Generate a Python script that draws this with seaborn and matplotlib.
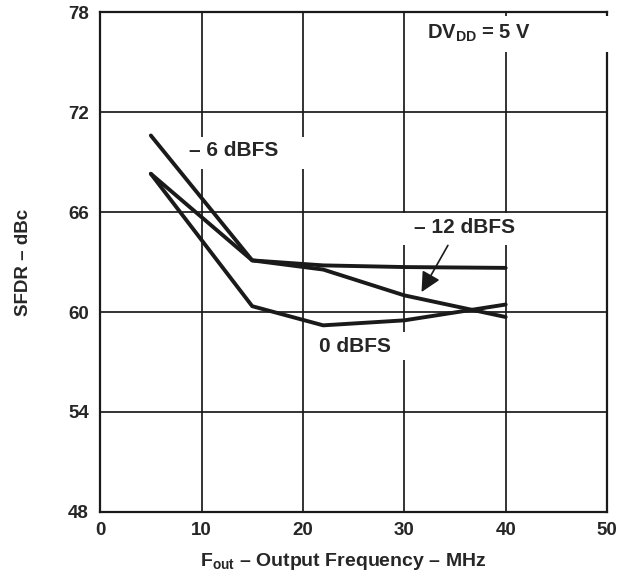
import numpy as np
import pandas as pd
import matplotlib
matplotlib.use('Agg')
import matplotlib.pyplot as plt
from matplotlib.patches import Rectangle
import seaborn as sns

# values
freq = [5, 15, 22, 30, 40]
sfdr_0dbfs = [68.3, 60.35, 59.2, 59.5, 60.45]
sfdr_6dbfs = [70.6, 63.1, 62.8, 62.7, 62.65]
sfdr_12dbfs = [68.3, 63.1, 62.55, 61.0, 59.7]

x_ticks = [0, 10, 20, 30, 40, 50]
y_ticks = [48, 54, 60, 66, 72, 78]

INK = '#1a1a1a'


def build_frame():
    """stack the three curves into one long dataframe for seaborn"""
    parts = []
    for name, vals in [('0 dBFS', sfdr_0dbfs), ('-6 dBFS', sfdr_6dbfs), ('-12 dBFS', sfdr_12dbfs)]:
        parts.append(pd.DataFrame({'freq': freq, 'sfdr': vals, 'level': name}))
    return pd.concat(parts, ignore_index=True)


def white_box(ax, x0, y0, x1, y1):
    # white patch that hides the grid behind a label, like the datasheet does
    ax.add_patch(Rectangle((x0, y0), x1 - x0, y1 - y0, facecolor='white',
                           edgecolor='none', zorder=3, clip_on=False))


def main():
    sns.set_theme(style='white')
    plt.rcParams['font.family'] = ['Liberation Sans', 'DejaVu Sans']
    plt.rcParams['font.weight'] = 'bold'
    plt.rcParams['mathtext.fontset'] = 'custom'
    plt.rcParams['mathtext.rm'] = 'Liberation Sans:bold'
    plt.rcParams['mathtext.bf'] = 'Liberation Sans:bold'
    plt.rcParams['mathtext.default'] = 'rm'

    df = build_frame()

    fig = plt.figure(figsize=(6.22, 5.83), dpi=100)
    ax = fig.add_axes([0.161, 0.122, 0.815, 0.857])

    sns.lineplot(data=df, x='freq', y='sfdr', hue='level',
                 palette=[INK] * 3, linewidth=2.8, legend=False,
                 ax=ax, zorder=4)

    ax.set_xlim(0, 50)
    ax.set_ylim(48, 78)
    ax.set_xticks(x_ticks)
    ax.set_yticks(y_ticks)
    ax.tick_params(length=0, labelsize=13.5)
    ax.tick_params(axis='x', pad=7)
    ax.tick_params(axis='y', pad=8)
    for lab in ax.get_xticklabels() + ax.get_yticklabels():
        lab.set_fontweight('bold')
    ax.grid(True, color=INK, linewidth=1.25)
    for s in ax.spines.values():
        s.set_color(INK)
        s.set_linewidth(1.6)

    ax.set_xlabel(r'F$_{\mathrm{out}}$ – Output Frequency – MHz', fontsize=14,
                  fontweight='bold')
    ax.xaxis.set_label_coords(0.48, -0.078)
    ax.set_ylabel('SFDR – dBc', fontsize=13.5, fontweight='bold')
    ax.yaxis.set_label_coords(-0.134, 0.5)

    # label masks
    white_box(ax, 30.6, 75.6, 51.0, 77.8)
    white_box(ax, 7.9, 68.6, 20.8, 70.5)
    white_box(ax, 29.6, 64.0, 44.3, 65.95)
    white_box(ax, 20.8, 57.1, 30.6, 58.8)

    ax.text(32.2, 76.75, r'DV$_{\mathrm{DD}}$ = 5 V', fontsize=14.5, fontweight='bold',
            ha='left', va='center', zorder=5)
    ax.text(13.2, 69.7, '– 6 dBFS', fontsize=15, fontweight='bold',
            ha='center', va='center', zorder=5)
    ax.text(35.9, 65.05, '– 12 dBFS', fontsize=15, fontweight='bold',
            ha='center', va='center', zorder=5)
    ax.text(25.1, 57.9, '0 dBFS', fontsize=15, fontweight='bold',
            ha='center', va='center', zorder=5)

    ax.annotate('', xy=(31.7, 61.2), xytext=(34.3, 64.0),
                arrowprops=dict(arrowstyle='-|>,head_length=1.0,head_width=0.5',
                                color=INK, lw=1.2, shrinkA=0, shrinkB=0),
                zorder=6)

    fig.savefig('out.png', dpi=100)


if __name__ == '__main__':
    main()
